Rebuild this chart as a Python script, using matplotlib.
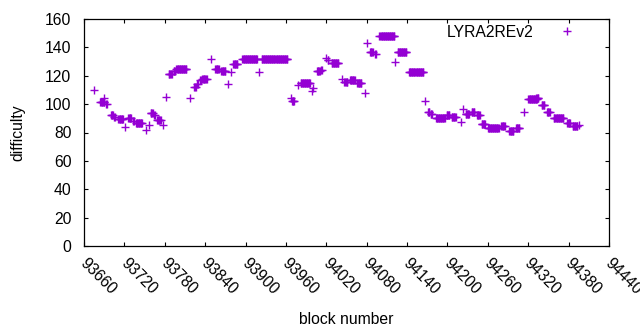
import numpy as np
import matplotlib
matplotlib.use("Agg")
import matplotlib.pyplot as plt
import matplotlib.transforms as mtransforms

# Runs of constant difficulty: (start block, end block, difficulty)
run_start = [93675, 93684, 93689, 93693, 93700, 93705, 93711, 93721, 93726, 93733,
             93737, 93752, 93757, 93759, 93764, 93769, 93778, 93782, 93786, 93793,
             93797, 93817, 93824, 93828, 93833, 93836, 93849, 93855, 93864, 93874,
             93879, 93882, 93895, 93920, 93924, 93967, 93969, 93978, 93982, 93999,
             94000, 94006, 94012, 94020, 94022, 94028, 94044, 94047, 94055, 94066,
             94077, 94081, 94085, 94093, 94099, 94122, 94126, 94143, 94166, 94171,
             94175, 94183, 94199, 94206, 94220, 94223, 94227, 94236, 94244, 94251,
             94260, 94280, 94292, 94302, 94313, 94320, 94332, 94340, 94348, 94358,
             94378, 94386, 94396]
run_end = [93675, 93690, 93689, 93694, 93703, 93706, 93718, 93721, 93730, 93734,
           93746, 93752, 93757, 93762, 93765, 93774, 93778, 93782, 93790, 93795,
           93812, 93817, 93826, 93829, 93834, 93842, 93849, 93860, 93870, 93874,
           93879, 93888, 93917, 93920, 93962, 93967, 93972, 93978, 93996, 93999,
           94000, 94010, 94013, 94020, 94023, 94038, 94044, 94051, 94062, 94072,
           94077, 94081, 94089, 94094, 94121, 94122, 94139, 94164, 94166, 94173,
           94177, 94196, 94203, 94212, 94220, 94223, 94232, 94240, 94248, 94256,
           94276, 94285, 94298, 94307, 94313, 94333, 94335, 94344, 94352, 94372,
           94382, 94393, 94396]
run_value = [110, 101.5, 104, 100, 92, 91, 89.5, 84, 90.3, 88,
             86.5, 82, 85, 93.5, 92.3, 88.8, 85, 105, 121, 123.5,
             124.8, 104, 112, 114, 117, 118, 132, 124.8, 123, 114,
             122.8, 128.3, 131.6, 122.8, 131.6, 104, 102, 113.5, 114.7, 109.5,
             111.5, 123.3, 124, 132.3, 131, 128.8, 118, 115.8, 116.8, 114.7,
             108, 143, 136.5, 135.3, 148.2, 130, 136.5, 122.4, 102.2, 94.7,
             92.8, 90, 92.3, 91.1, 87.6, 96.3, 92.8, 94.2, 92.3, 85.8,
             83, 84.6, 81, 83, 94.7, 103.4, 104.5, 99.4, 94.2, 90,
             87, 84.8, 85]

x_ticks = list(range(93660, 94441, 60))
y_ticks = list(range(0, 161, 20))

blocks = []
diffs = []
for s, e, v in zip(run_start, run_end, run_value):
    for b in range(s, e + 1):
        blocks.append(b)
        diffs.append(v)

plt.rcParams['font.family'] = ['Liberation Sans', 'DejaVu Sans']
color = '#9400D3'
fs = 11.3

fig = plt.figure(figsize=(6.4, 3.3), dpi=100)
ax = fig.add_axes([84/640, 1 - 246/330, 525/640, 227/330])

ax.plot(blocks, diffs, linestyle='none', marker='+', markersize=6.4,
        markeredgewidth=1.0, color=color, label='LYRA2REv2')

ax.set_xlim(93660, 94440)
ax.set_ylim(0, 160)
ax.set_xticks(x_ticks)
ax.set_yticks(y_ticks)
ax.set_xticklabels([str(t) for t in x_ticks], rotation=-45, ha='left', va='top',
                   rotation_mode='anchor', fontsize=fs)
ax.set_yticklabels([str(t) for t in y_ticks], fontsize=fs)
ax.tick_params(direction='in', length=3, width=0.8, top=True, right=True,
               colors='black')
ax.tick_params(axis='y', pad=9)
ax.tick_params(axis='x', pad=7)
offset = mtransforms.ScaledTranslation(4/100, 0, fig.dpi_scale_trans)
for lbl in ax.get_xticklabels():
    lbl.set_transform(lbl.get_transform() + offset)
for sp in ax.spines.values():
    sp.set_linewidth(0.9)
    sp.set_color('black')

ax.set_xlabel('block number', fontsize=fs, labelpad=10)
ax.set_ylabel('difficulty', fontsize=fs, labelpad=14)

leg = ax.legend(loc='upper right', bbox_to_anchor=(0.9505, 0.975), borderaxespad=0,
                borderpad=0, frameon=False, markerfirst=False, handlelength=2.0,
                handletextpad=1.15, fontsize=fs)

fig.savefig('out.png', dpi=100)
